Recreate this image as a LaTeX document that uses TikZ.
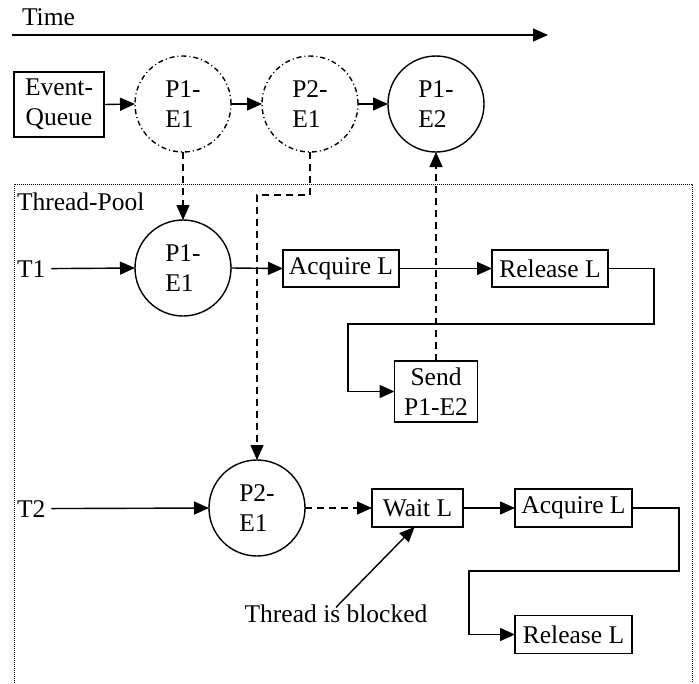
\documentclass[tikz,border=0pt]{standalone}
\usepackage{fontspec}
\setmainfont{Liberation Serif}
\usetikzlibrary{arrows.meta}
\begin{document}
\begin{tikzpicture}[x=1pt,y=-1pt,
  font=\fontsize{25.5}{30}\selectfont,
  every node/.style={inner sep=0pt, outer sep=0pt},
  circ/.style={circle, draw, line width=1.4pt, minimum size=96pt, align=left},
  dcirc/.style={circ, dash pattern=on 5pt off 3pt on 1pt off 3pt},
  box/.style={draw, line width=1.4pt, align=center},
  arr/.style={line width=1.4pt, -{Triangle[length=15pt,width=13pt]}},
  darr/.style={arr, dash pattern=on 7pt off 5pt},
  lbl/.style={anchor=base west},
  frame/.style={line width=1pt, dash pattern=on 1pt off 1pt}
]
\useasboundingbox (0,0) rectangle (699,683);

% Time axis
\node[lbl] (time) at (22,25) {Time};
\coordinate (t0) at (12,35);
\coordinate (t1) at (548,35);
\draw[arr] (t0) -- (t1);

% Event queue row
\node[box, minimum width=90pt, minimum height=65pt] (eq) at (59,104.5) {Event-\\Queue};
\node[dcirc] (q1) at (183,104) {P1-\\E1};
\node[dcirc] (q2) at (310,104) {P2-\\E1};
\node[circ] (q3) at (436,104) {P1-\\E2};
\draw[arr] (eq.east) -- (q1.west);
\draw[arr] (q1.east) -- (q2.west);
\draw[arr] (q2.east) -- (q3.west);

% Thread pool frame
\draw[frame] (14,683) -- (14,184) -- (692,184) -- (692,683);
\node[lbl] (tp) at (17,210) {Thread-Pool};

% Thread 1
\node[lbl] (T1) at (17,277) {T1};
\node[circ] (t1e) at (183,268) {P1-\\E1};
\node[box, minimum width=116pt, minimum height=37pt] (acq1) at (341,268.5) {Acquire L};
\node[box, minimum width=116pt, minimum height=37pt] (rel1) at (550,268.5) {Release L};
\node[box, minimum width=83pt, minimum height=61pt] (send) at (436,391.5) {Send\\P1-E2};
\draw[arr] ([xshift=6pt]T1.east) -- (t1e.west);
\draw[arr] (t1e.east) -- (acq1.west);
\draw[arr] (acq1.east) -- (rel1.west);
\draw[arr] (rel1.east) -- (654,268.5) -- (654,324) -- (348,324) -- (348,391.5) -- (send.west);

% Thread 2
\node[lbl] (T2) at (17,517) {T2};
\node[circ] (t2e) at (257,508) {P2-\\E1};
\node[box, minimum width=91pt, minimum height=38pt] (wait) at (417.5,508) {Wait L};
\node[box, minimum width=117pt, minimum height=38pt] (acq2) at (573.5,508) {Acquire L};
\node[box, minimum width=117pt, minimum height=38pt] (rel2) at (573.5,634.5) {Release L};
\draw[arr] ([xshift=6pt]T2.east) -- (t2e.west);
\draw[darr] (t2e.east) -- (wait.west);
\draw[arr] (wait.east) -- (acq2.west);
\draw[arr] (acq2.east) -- (679,508) -- (679,571) -- (469,571) -- (469,634.5) -- (rel2.west);

% Dispatch / send links
\coordinate (j) at (257,195);
\draw[darr] (q1.south) -- (t1e.north);
\draw[darr] (q2.south) |- (j) -- (t2e.north);
\draw[darr] (send.north) -- (q3.south);

% Blocked annotation
\node[anchor=base] (blk) at (336,622) {Thread is blocked};
\draw[arr] ([yshift=-3pt]blk.north) -- ([xshift=-3pt]wait.south);
\end{tikzpicture}
\end{document}
